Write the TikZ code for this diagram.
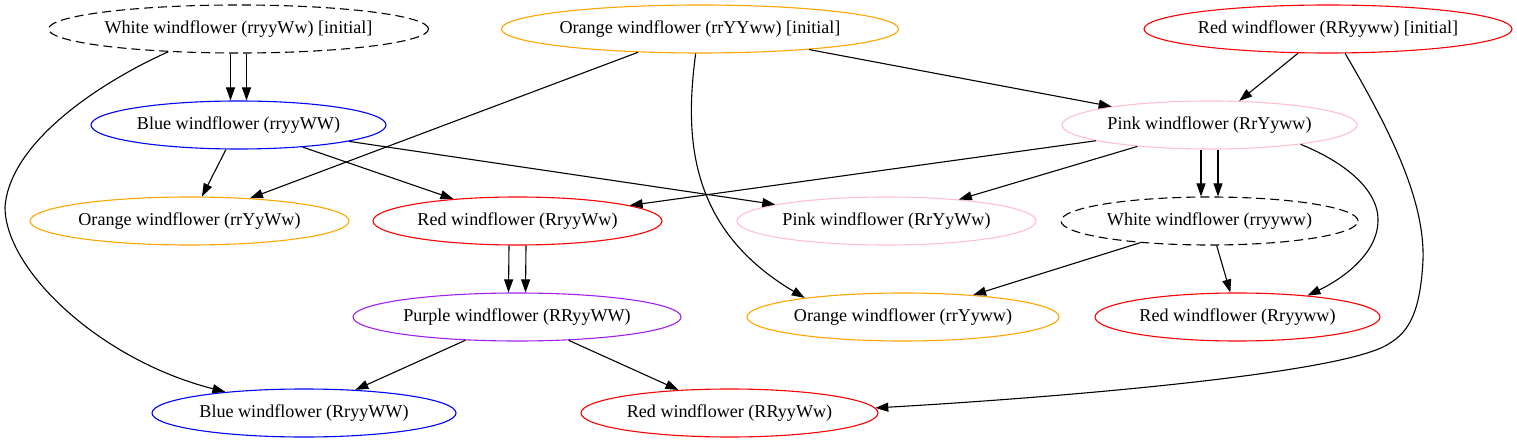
\documentclass[tikz,border=0pt]{standalone}
\usepackage{fontspec}
\setmainfont{Liberation Serif}
\usetikzlibrary{arrows.meta,shapes.geometric}
\definecolor{gvorange}{HTML}{FFA500}
\definecolor{gvpink}{HTML}{FFC0CB}
\definecolor{gvpurple}{HTML}{A020F0}
\definecolor{gvblue}{HTML}{0000FF}
\definecolor{gvred}{HTML}{FF0000}
\begin{document}
\begin{tikzpicture}[x=1pt,y=-1pt,
  st/.style={ellipse, draw, line width=1.1pt, inner sep=0pt, minimum height=48pt,
             font=\fontsize{18.1}{21}\selectfont},
  dsh/.style={st, draw=black, dash pattern=on 9pt off 5pt},
  org/.style={st, draw=gvorange},
  rd/.style={st, draw=gvred},
  bl/.style={st, draw=gvblue},
  pk/.style={st, draw=gvpink},
  pu/.style={st, draw=gvpurple},
  conn/.style={line width=1.1pt, -{Triangle[length=13pt,width=9pt]}}]
\useasboundingbox (0,0) rectangle (1517,443);
% row 1
\node[dsh, minimum width=380pt] (w1) at (238.5,29) {White windflower (rryyWw) [initial]};
\node[org, minimum width=394pt] (o1) at (700,29) {Orange windflower (rrYYww) [initial]};
\node[rd,  minimum width=368pt] (r1) at (1328,29) {Red windflower (RRyyww) [initial]};
% row 2
\node[bl, minimum width=295pt] (b1) at (238.5,125) {Blue windflower (rryyWW)};
\node[pk, minimum width=295pt] (p1) at (1209.5,125) {Pink windflower (RrYyww)};
% row 3
\node[org, minimum width=319pt] (o2) at (189.5,221) {Orange windflower (rrYyWw)};
\node[rd,  minimum width=289pt] (r2) at (517.5,221) {Red windflower (RryyWw)};
\node[pk,  minimum width=299pt] (p2) at (886.5,221) {Pink windflower (RrYyWw)};
\node[dsh, minimum width=297pt] (w2) at (1209.5,221) {White windflower (rryyww)};
% row 4
\node[pu,  minimum width=328pt] (pp) at (517,317) {Purple windflower (RRyyWW)};
\node[org, minimum width=312pt] (o3) at (903,317) {Orange windflower (rrYyww)};
\node[rd,  minimum width=285pt] (r3) at (1237.5,317) {Red windflower (Rryyww)};
% row 5
\node[bl, minimum width=304pt] (b2) at (304,413) {Blue windflower (RryyWW)};
\node[rd, minimum width=297pt] (r4) at (729.5,413) {Red windflower (RRyyWw)};

% edges
\draw[conn] ([xshift=-8pt]w1.south) -- ([xshift=-8pt]b1.north);
\draw[conn] ([xshift=8pt]w1.south) -- ([xshift=8pt]b1.north);
\draw[conn] (w1.198) .. controls (105,80) and (10,140) .. (5,207)
            .. controls (5,270) and (100,360) .. (b2.165);
\draw[conn] (o1) -- (o2);
\draw[conn] (o1.260) .. controls (684,140) and (690,230) .. (o3.169);
\draw[conn] (o1) -- (p1);
\draw[conn] (r1) -- (p1);
\draw[conn] (r1.305) .. controls (1390,130) and (1425,200) .. (1423,260)
            .. controls (1420,320) and (1405,335) .. (1385,346)
            .. controls (1330,375) and (1050,398) .. (r4.2);
\draw[conn] (b1) -- (o2);
\draw[conn] (b1) -- (r2);
\draw[conn] (b1) -- (p2);
\draw[conn] (p1) -- (r2);
\draw[conn] (p1) -- (p2);
\draw[conn] ([xshift=-8.5pt]p1.south) -- ([xshift=-8.5pt]w2.north);
\draw[conn] ([xshift=8.5pt]p1.south) -- ([xshift=8.5pt]w2.north);
\draw[conn] (p1.348) .. controls (1335,158) and (1378,185) .. (1378,220)
            .. controls (1378,255) and (1340,280) .. (r3.17);
\draw[conn] ([xshift=-8.5pt]r2.south) -- ([xshift=-8.5pt]pp.north);
\draw[conn] ([xshift=8.5pt]r2.south) -- ([xshift=8.5pt]pp.north);
\draw[conn] (w2) -- (o3);
\draw[conn] (w2) -- (r3);
\draw[conn] (pp) -- (b2);
\draw[conn] (pp) -- (r4);
\end{tikzpicture}
\end{document}
